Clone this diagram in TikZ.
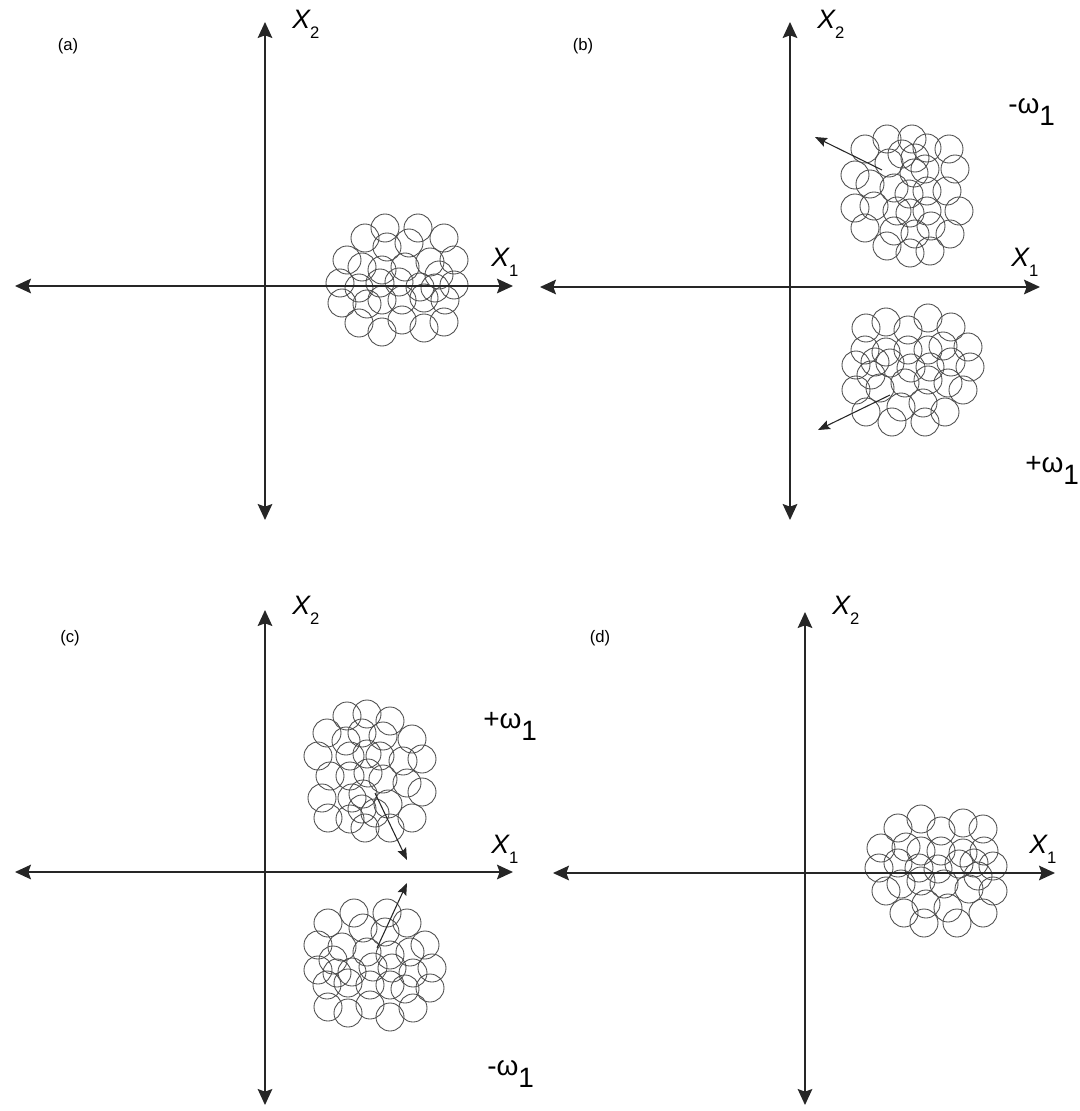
\documentclass[tikz,border=0pt]{standalone}
\usepackage{fontspec}
\setmainfont{Liberation Sans}
\usetikzlibrary{arrows.meta}
\tikzset{
  x=0.75pt, y=-0.75pt,
  axis/.style={line width=1.1pt, black!85,
    {Stealth[length=12pt,width=11pt,inset=2pt]}-{Stealth[length=12pt,width=11pt,inset=2pt]}},
  bub/.style={draw=black!70, line width=0.65pt},
  mov/.style={line width=0.8pt, black!85, -{Stealth[length=9pt,width=7pt,inset=1.5pt]}},
  xlab/.style={anchor=base west, inner sep=0pt},
  wlab/.style={anchor=base west, inner sep=0pt, font=\fontsize{21}{21}\selectfont},
  plab/.style={anchor=center, inner sep=0pt, font=\fontsize{12.5}{12.5}\selectfont},
}
\newcommand\axlab[1]{\fontsize{20}{20}\selectfont\itshape X\raisebox{-8pt}{\upshape\fontsize{12.5}{12.5}\selectfont #1}}
\newcommand\wl[1]{#1\raisebox{-9pt}{1}}
\def\clusterpts{-12/-52, 21/-52, -32/-42, 47/-42, -10/-33, 12/-37, -50/-20, -35/-13, -15/-10, 8/-13, 33/-18, 57/-20, 42/-5, -57/3, -38/8, 2/2, -17/3, 23/7, 57/5, -55/23, -15/20, 5/20, 27/18, 48/20, -38/43, -15/52, 5/40, 27/48, 47/42, -30/24, 38/8}
\newcommand\drawcluster[2]{%
  \begin{scope}[shift={#1},#2]
    \foreach \dx/\dy in \clusterpts { \draw[bub] (\dx,\dy) circle[radius=10.5pt]; }
  \end{scope}}
\begin{document}
\begin{tikzpicture}
\useasboundingbox (0,0) rectangle (1079,1111);
% ---------- panel (a)
\coordinate (aL) at (15,286); \coordinate (aR) at (513,286);
\coordinate (aT) at (265,22); \coordinate (aB) at (265,520);
\drawcluster{(397,280)}{}
\draw[axis] (aL) -- (aR);
\draw[axis] (aB) -- (aT);
\node[xlab] (ax2) at (292,28) {\axlab{2}};
\node[xlab] (ax1) at (491,266) {\axlab{1}};
\node[plab] (pa) at (68,46) {(a)};
% ---------- panel (b)
\coordinate (bL) at (540,287); \coordinate (bR) at (1040,287);
\coordinate (bT) at (790,22); \coordinate (bB) at (790,520);
\drawcluster{(907,196)}{rotate=90}
\drawcluster{(913,370)}{rotate=180}
\draw[axis] (bL) -- (bR);
\draw[axis] (bB) -- (bT);
\coordinate (b1s) at (882,170); \coordinate (b1e) at (815,137);
\coordinate (b2s) at (890,395); \coordinate (b2e) at (818,430);
\draw[mov] (b1s) -- (b1e);
\draw[mov] (b2s) -- (b2e);
\node[xlab] (bx2) at (817,28) {\axlab{2}};
\node[xlab] (bx1) at (1011,266) {\axlab{1}};
\node[plab] (pb) at (583,46) {(b)};
\node[wlab] (bw1) at (1008,113) {\wl{-ω}};
\node[wlab] (bw2) at (1025,472) {\wl{+ω}};
% ---------- panel (c)
\coordinate (cL) at (15,872); \coordinate (cR) at (513,872);
\coordinate (cT) at (265,610); \coordinate (cB) at (265,1105);
\drawcluster{(370,771)}{rotate=270}
\drawcluster{(375,965)}{xscale=-1}
\draw[axis] (cL) -- (cR);
\draw[axis] (cB) -- (cT);
\coordinate (c1s) at (375,793); \coordinate (c1e) at (407,860);
\coordinate (c2s) at (377,948); \coordinate (c2e) at (407,883);
\draw[mov] (c1s) -- (c1e);
\draw[mov] (c2s) -- (c2e);
\node[xlab] (cx2) at (292,614) {\axlab{2}};
\node[xlab] (cx1) at (491,853) {\axlab{1}};
\node[plab] (pc) at (70,638) {(c)};
\node[wlab] (cw1) at (483,728) {\wl{+ω}};
\node[wlab] (cw2) at (487,1075) {\wl{-ω}};
% ---------- panel (d)
\coordinate (dL) at (553,873); \coordinate (dR) at (1055,873);
\coordinate (dT) at (805,612); \coordinate (dB) at (805,1105);
\drawcluster{(936,871)}{yscale=-1}
\draw[axis] (dL) -- (dR);
\draw[axis] (dB) -- (dT);
\node[xlab] (dx2) at (832,614) {\axlab{2}};
\node[xlab] (dx1) at (1029,853) {\axlab{1}};
\node[plab] (pd) at (600,638) {(d)};
\end{tikzpicture}
\end{document}
